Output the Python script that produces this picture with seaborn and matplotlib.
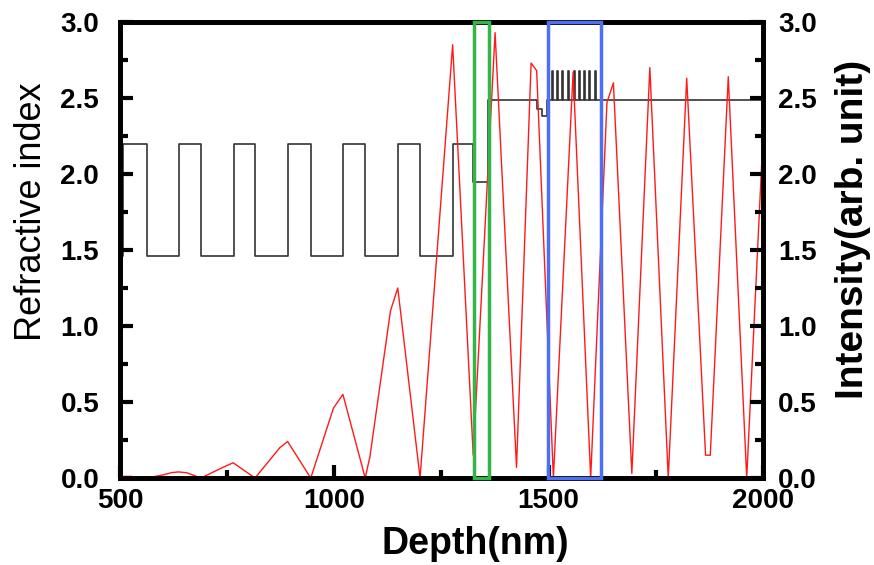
import matplotlib
matplotlib.use("Agg")
import matplotlib.pyplot as plt
import seaborn as sns
from matplotlib.ticker import MultipleLocator, FormatStrFormatter
from matplotlib.patches import Rectangle

# Refractive-index depth profile (layer start depth in nm, index of the layer)
layer_x = [507.7, 507.7, 562, 638, 688, 765, 816, 893, 945, 1021, 1072, 1148, 1200,
           1276, 1324, 1358, 1472, 1485, 1497,
           1507, 1509.5, 1519, 1521.5, 1531, 1533.5, 1545, 1547.5, 1558, 1560.5,
           1570, 1572.5, 1582, 1584.5, 1594, 1596.5, 1608, 1610.5, 2000]
layer_n = [1.46, 2.20, 1.46, 2.20, 1.46, 2.20, 1.46, 2.20, 1.46, 2.20, 1.46, 2.20, 1.46,
           2.20, 1.95, 2.49, 2.43, 2.38, 2.49,
           2.68, 2.49, 2.68, 2.49, 2.68, 2.49, 2.68, 2.49, 2.68, 2.49,
           2.68, 2.49, 2.68, 2.49, 2.68, 2.49, 2.68, 2.49, 2.49]

# Field intensity along depth
depth = [500, 525, 562, 600, 620, 636, 655, 689, 740, 764, 815, 873, 891, 945,
         998, 1020, 1072, 1083, 1131, 1148, 1200, 1276, 1324, 1375, 1425, 1459,
         1472, 1511, 1557, 1598, 1636, 1651, 1694, 1736, 1779, 1822, 1866, 1877,
         1919, 1962, 2000]
intensity = [0.01, 0.01, 0.0, 0.02, 0.035, 0.04, 0.035, 0.0, 0.07, 0.10, 0.0, 0.20, 0.24, 0.0,
             0.46, 0.55, 0.0, 0.14, 1.10, 1.25, 0.0, 2.85, 0.15, 2.93, 0.07, 2.73,
             2.68, 0.0, 2.67, 0.0, 2.47, 2.60, 0.03, 2.70, 0.0, 2.63, 0.15, 0.15,
             2.64, 0.0, 2.25]

# Highlight boxes (depth range in nm)
green_box = [1326.5, 1360.8]
blue_box = [1499, 1621]

sns.set_theme(style="ticks")
plt.rcParams["font.family"] = ["Liberation Sans", "DejaVu Sans"]
plt.rcParams["text.color"] = "black"
plt.rcParams["axes.labelcolor"] = "black"

fig = plt.figure(figsize=(8.74, 5.65), dpi=100)
ax = fig.add_axes([120 / 874, 1 - 478 / 565, 643 / 874, 456 / 565])
ax2 = ax.twinx()

sns.lineplot(x=layer_x, y=layer_n, ax=ax, drawstyle="steps-post", color="#333333",
             linewidth=1.2, sort=False, estimator=None)
sns.lineplot(x=depth, y=intensity, ax=ax2, color="#ff1a1a", linewidth=1.0,
             sort=False, estimator=None)

for (x0, x1), col in [(green_box, "#33b54a"), (blue_box, "#4d6ff2")]:
    ax2.add_patch(Rectangle((x0, 0), x1 - x0, 3.0, fill=False, edgecolor=col,
                            linewidth=2.5, zorder=5, clip_on=False))

ax.set_xlim(500, 2000)
ax.set_ylim(0, 3)
ax2.set_ylim(0, 3)

ax.xaxis.set_major_locator(MultipleLocator(500))
ax.xaxis.set_minor_locator(MultipleLocator(250))
for a in (ax, ax2):
    a.yaxis.set_major_locator(MultipleLocator(0.5))
    a.yaxis.set_minor_locator(MultipleLocator(0.25))
    a.yaxis.set_major_formatter(FormatStrFormatter("%.1f"))
    for s in a.spines.values():
        s.set_linewidth(3.4)
        s.set_color("black")
    a.grid(False)
    a.set_axisbelow(False)

ax.tick_params(axis="x", which="both", direction="in", top=False, bottom=True,
               labelsize=20, pad=7, colors="black")
ax.tick_params(axis="y", which="both", direction="in", left=True, right=False,
               labelsize=20, pad=15, colors="black")
ax2.tick_params(axis="y", which="both", direction="in", right=True, left=False,
                labelsize=20, pad=11, colors="black")
for a in (ax, ax2):
    a.tick_params(which="major", length=9.5, width=3)
    a.tick_params(which="minor", length=5.5, width=3)
    for lbl in a.get_xticklabels() + a.get_yticklabels():
        lbl.set_fontweight("bold")

ax.set_xlabel("Depth(nm)", fontsize=27, fontweight="bold", labelpad=9)
ax.xaxis.label.set_x(0.552)
ax.set_ylabel("Refractive index", fontsize=26, fontweight="normal", labelpad=8)
ax.yaxis.label.set_y(0.583)
ax2.set_ylabel("Intensity(arb. unit)", fontsize=28, fontweight="bold", labelpad=13)
ax2.yaxis.label.set_y(0.544)

fig.savefig("out.png", dpi=100)
